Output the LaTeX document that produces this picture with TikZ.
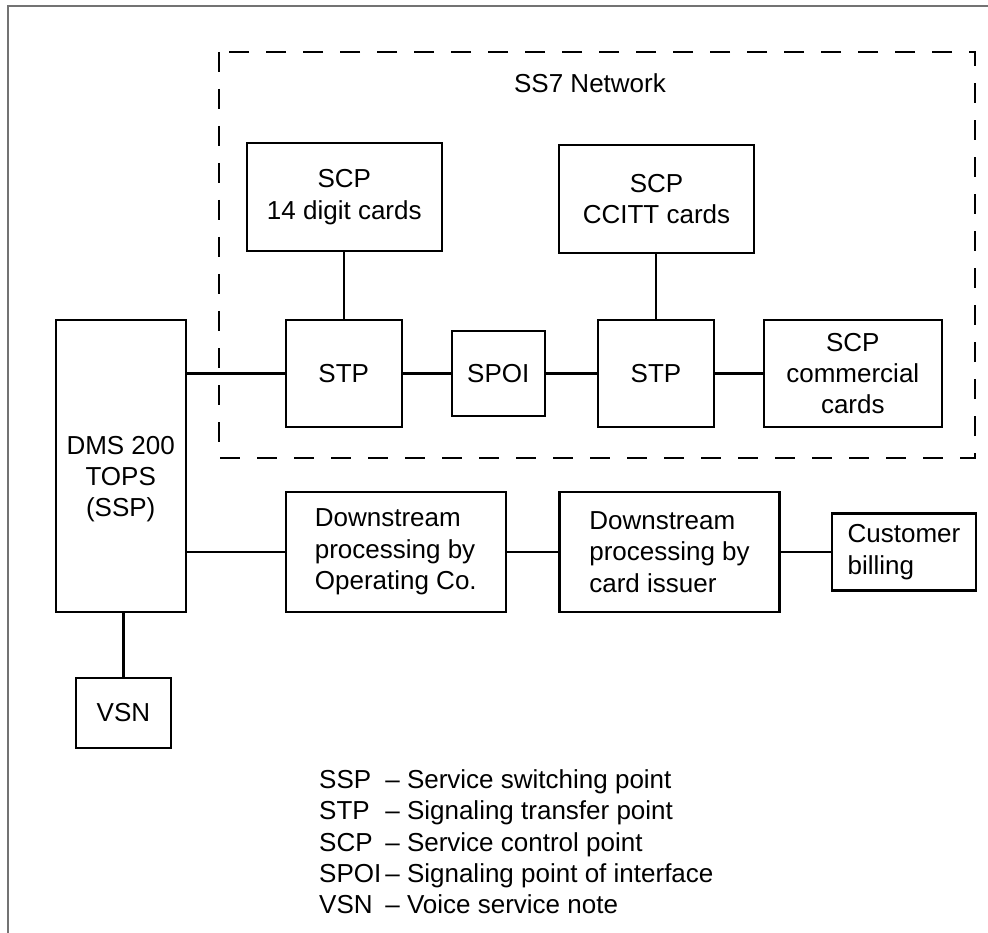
\documentclass[tikz,border=0pt]{standalone}
\usepackage{fontspec}
\setmainfont{Liberation Sans}
\begin{document}
\begin{tikzpicture}[x=1pt, y=-1pt,
  every node/.style={font=\fontsize{26}{31.3}\selectfont},
  box/.style={draw, line width=2.4pt, inner sep=0pt, align=center},
  wire/.style={line width=2.2pt},
  net/.style={line width=2.2pt, dash pattern=on 20pt off 17pt}]
  \useasboundingbox (0,0) rectangle (988,933);
  \draw[line width=2pt, black!55] (988,6) -- (8,6) -- (8,933);

  % SS7 network
  \draw[net] (219,52) rectangle (975,458);
  \node (ss7) at (590,83) {SS7 Network};

  \node[box, minimum width=195pt, minimum height=108pt] (scpa) at (344.3,197) {SCP\\14 digit cards};
  \node[box, minimum width=195pt, minimum height=108pt] (scpb) at (656.5,199) {SCP\\CCITT cards};
  \node[box, minimum width=116pt, minimum height=107pt] (stpa) at (343.7,373.5) {STP};
  \node[box, minimum width=93pt, minimum height=85pt] (spoi) at (498.3,373.5) {SPOI};
  \node[box, minimum width=116pt, minimum height=107pt] (stpb) at (656,373.5) {STP};
  \node[box, minimum width=178pt, minimum height=107pt] (scpc) at (852.8,373.5) {SCP\\commercial\\cards};

  % switch and downstream
  \node[box, minimum width=130pt, minimum height=292pt] (dms) at (120.7,466) {};
  \node[align=center] (dmstext) at (120.7,479) {DMS 200\\TOPS\\(SSP)};
  \node[box, minimum width=95pt, minimum height=70pt] (vsn) at (123.4,713) {VSN};
  \node[box, align=left, minimum width=220pt, minimum height=120pt] (dsa) at (395.8,552) {Downstream\\processing by\\Operating Co.};
  \node[box, align=left, minimum width=220pt, minimum height=120pt] (dsb) at (669.5,552) {Downstream\\processing by\\card issuer};
  \node[box, align=left, minimum width=144pt, minimum height=77pt] (cust) at (904,552) {Customer\\billing};

  \draw[wire] (stpa.north) -- (stpa.north |- scpa.south);
  \draw[wire] (stpb.north) -- (stpb.north |- scpb.south);
  \draw[wire] (dms.east |- stpa) -- (stpa.west);
  \draw[wire] (stpa) -- (spoi);
  \draw[wire] (spoi) -- (stpb);
  \draw[wire] (stpb) -- (scpc);
  \draw[wire] (dms.east |- dsa) -- (dsa.west);
  \draw[wire] (dsa) -- (dsb);
  \draw[wire] (dsb) -- (cust);
  \draw[wire] (vsn.north) -- (vsn.north |- dms.south);

  % legend
  \node[anchor=west, inner sep=0pt] (legend) at (319,845) {%
    \begin{tabular}{@{}l@{\hspace{4pt}}l@{}}
      SSP & – Service switching point\\
      STP & – Signaling transfer point\\
      SCP & – Service control point\\
      SPOI & – Signaling point of interface\\
      VSN & – Voice service note
    \end{tabular}};
\end{tikzpicture}
\end{document}
